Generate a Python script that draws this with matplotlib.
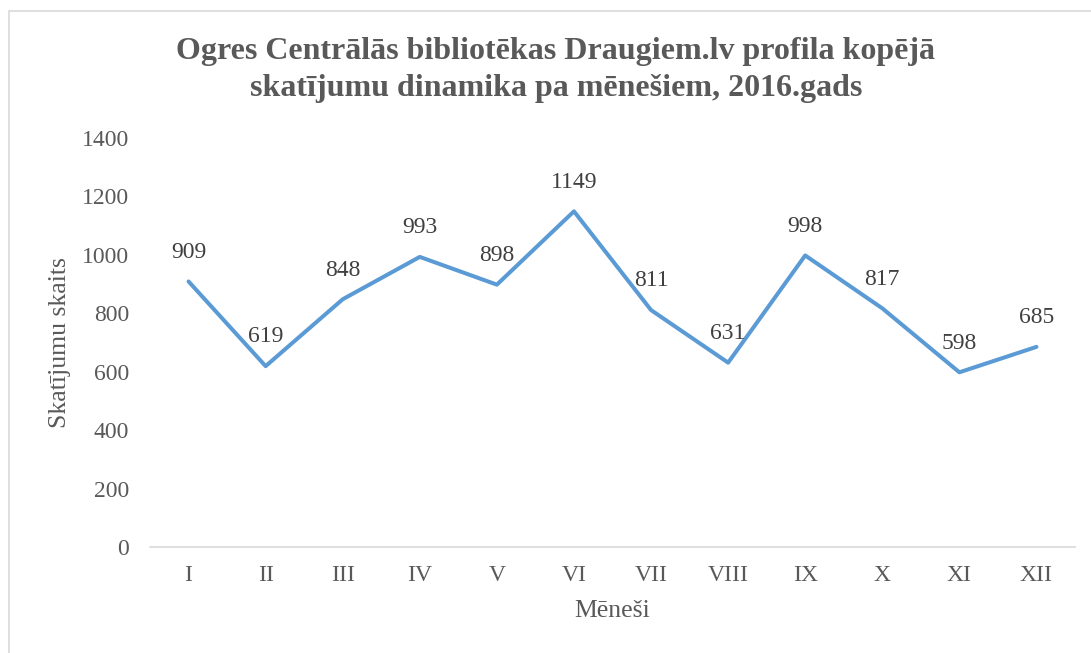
import matplotlib
matplotlib.use("Agg")
import matplotlib.pyplot as plt
from matplotlib.patches import Rectangle

months = ["I", "II", "III", "IV", "V", "VI", "VII", "VIII", "IX", "X", "XI", "XII"]
views = [909, 619, 848, 993, 898, 1149, 811, 631, 998, 817, 598, 685]
yticks = [0, 200, 400, 600, 800, 1000, 1200, 1400]

plt.rcParams['font.family'] = ['Liberation Serif', 'DejaVu Serif']
gray = '#595959'

fig = plt.figure(figsize=(10.91, 6.53), dpi=100)
fig.patches.append(Rectangle((9/1091, -0.1), 1.2, (653-11)/653 + 0.1, transform=fig.transFigure,
                             fill=False, edgecolor='#D9D9D9', linewidth=1.2))
ax = fig.add_axes([150/1091, (653-547)/653, 925/1091, (547-138)/653])
x = list(range(len(months)))
ax.plot(x, views, color='#5B9BD5', linewidth=2.9, solid_capstyle='round', solid_joinstyle='round')
for xi, v in zip(x, views):
    ax.annotate(str(v), (xi, v), xytext=(0, 21), textcoords='offset points',
                ha='center', va='center', fontsize=17, color='#404040')
ax.set_xlim(-0.5, len(months) - 0.5)
ax.set_ylim(0, 1400)
ax.set_yticks(yticks)
ax.set_xticks(x)
ax.set_xticklabels(months)
ax.tick_params(axis='both', length=0, labelsize=17, labelcolor=gray)
ax.tick_params(axis='y', pad=15)
ax.tick_params(axis='x', pad=13)
for s in ['top', 'right', 'left']:
    ax.spines[s].set_visible(False)
ax.spines['bottom'].set_color('#D9D9D9')
ax.spines['bottom'].set_linewidth(1.2)
ax.set_xlabel('Mēneši', fontsize=18.5, color=gray, labelpad=10)
ax.set_ylabel('Skatījumu skaits', fontsize=18.5, color=gray, labelpad=8)

fig.text(556/1091, 1 - 70/653, 'Ogres Centrālās bibliotēkas Draugiem.lv profila kopējā\nskatījumu dinamika pa mēnešiem, 2016.gads',
         ha='center', va='center', fontsize=23, fontweight='bold', color=gray, linespacing=1.35)

fig.savefig('out.png', dpi=100)
